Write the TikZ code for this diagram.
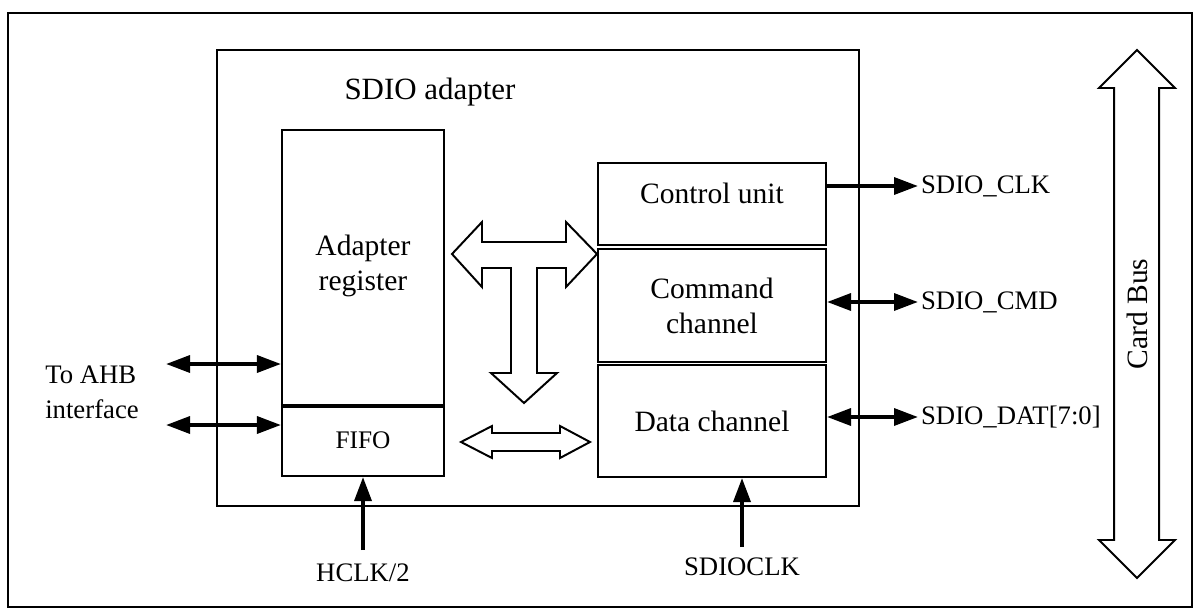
\documentclass[tikz,border=0pt]{standalone}
\usepackage{fontspec}
\setmainfont{Liberation Serif}
\usetikzlibrary{arrows.meta, positioning}

\begin{document}
\begin{tikzpicture}[x=0.025cm, y=-0.025cm,
    box/.style={draw, line width=1.4pt, inner sep=0pt, align=center, font=\fontsize{21}{25}\selectfont},
    pin/.style={font=\fontsize{19}{25}\selectfont},
    sig/.style={line width=2.8pt, -{Triangle[length=0.6cm, width=0.42cm]}},
    bisig/.style={line width=2.8pt, {Triangle[length=0.6cm, width=0.42cm]}-{Triangle[length=0.6cm, width=0.42cm]}},
    fat/.style={draw, line width=1.4pt, line join=miter, fill=white}]
    \useasboundingbox (0,0) rectangle (1195,610);
    \draw[line width=1pt] (8,13) rectangle (1192,607);

    % adapter and its blocks
    \node[box, minimum width=16.05cm, minimum height=11.4cm] (sdio) at (538,278) {};
    \node[box, draw=none, font=\fontsize{22}{26}\selectfont] (title) at (430,92) {SDIO adapter};
    \node[box, minimum width=4.05cm, minimum height=6.875cm, text depth=0.25cm] (reg) at (363,267.5) {Adapter\\register};
    \node[box, minimum width=4.05cm, minimum height=1.775cm, font=\fontsize{18}{20}\selectfont] (fifo) at (363,440.5) {FIFO};
    \draw[line width=2.8pt] (reg.south west) -- (reg.south east);
    \node[box, minimum width=5.7cm, minimum height=2.05cm, text depth=0.55cm] (ctrl) at (712,204) {Control unit};
    \node[box, minimum width=5.7cm, minimum height=2.825cm] (cmd) at (712,305.5) {Command\\channel};
    \node[box, minimum width=5.7cm, minimum height=2.8cm] (data) at (712,421) {Data channel};

    % internal buses
    \draw[fat] (452,254) -- (482,222) -- (482,242) -- (566,242) -- (566,222) -- (597,254)
        -- (566,287) -- (566,268) -- (537,268) -- (537,373) -- (557,373) -- (524,403)
        -- (491,373) -- (511,373) -- (511,268) -- (482,268) -- (482,287) -- cycle;
    \draw[fat] (461,442) -- (492,426) -- (492,433) -- (560,433) -- (560,426) -- (590,442)
        -- (560,458) -- (560,451) -- (492,451) -- (492,458) -- cycle;

    % card bus
    \draw[fat] (1137,50) -- (1175,88) -- (1159,88) -- (1159,540) -- (1175,540) -- (1137,578)
        -- (1099,540) -- (1114,540) -- (1114,88) -- (1099,88) -- cycle;
    \node[box, draw=none, rotate=90] (bus) at (1137,314) {Card Bus};

    % pins
    \coordinate (clk) at (918,186);
    \coordinate (cmdp) at (918,302);
    \coordinate (datp) at (918,417);
    \draw[sig] (clk -| ctrl.east) -- (clk);
    \draw[bisig] (cmdp -| cmd.east) -- (cmdp);
    \draw[bisig] (datp -| data.east) -- (datp);
    \node[pin, anchor=west, inner sep=2pt] (clkl) at (clk) {SDIO\_CLK};
    \node[pin, anchor=west, inner sep=2pt] (cmdl) at (cmdp) {SDIO\_CMD};
    \node[pin, anchor=west, inner sep=2pt] (datl) at (datp) {SDIO\_DAT[7:0]};

    \coordinate (ahb1) at (166,364);
    \coordinate (ahb2) at (166,425);
    \draw[bisig] (ahb1) -- (ahb1 -| reg.west);
    \draw[bisig] (ahb2) -- (ahb2 -| fifo.west);
    \node[pin, align=left] (ahb) at (92,392) {To AHB\\interface};

    \coordinate (hclk) at (363,550);
    \coordinate (sclk) at (742,547);
    \draw[sig] (hclk) -- (fifo.south);
    \draw[sig] (sclk) -- (sclk |- data.south);
    \node[pin] (hclkl) at (363,573) {HCLK/2};
    \node[pin] (sclkl) at (742,567) {SDIOCLK};
\end{tikzpicture}
\end{document}
